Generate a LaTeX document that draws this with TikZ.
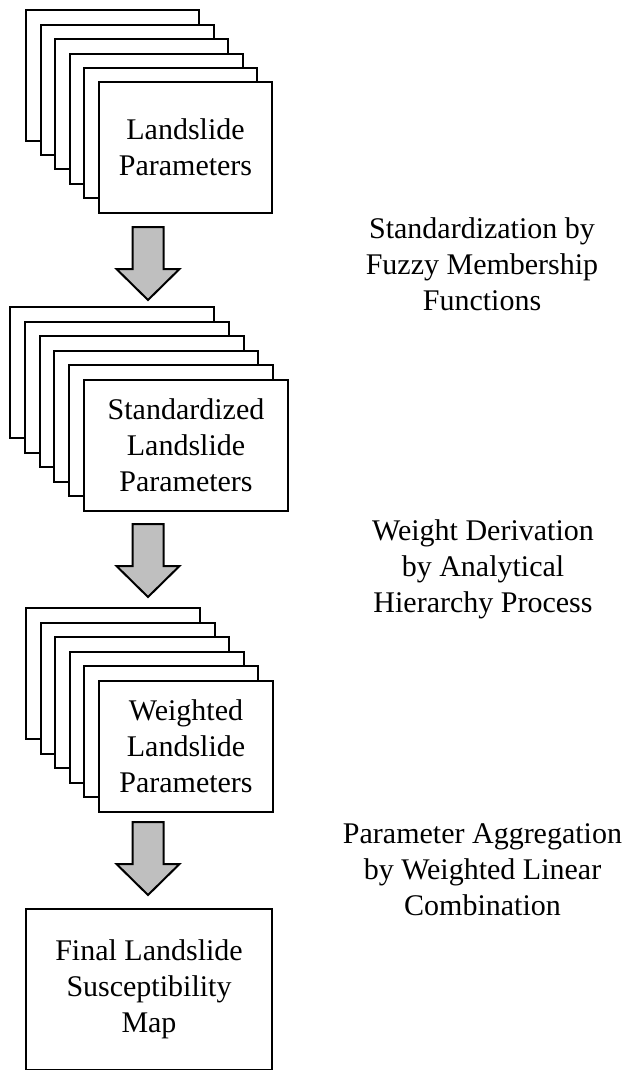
\documentclass[tikz,border=0pt]{standalone}
\usepackage{fontspec}
\setmainfont{Liberation Serif}
\usetikzlibrary{calc}
\begin{document}
\begin{tikzpicture}[x=1pt,y=-1pt,
  paper/.style={draw=black, fill=white, line width=2pt, anchor=north west, inner sep=0pt},
  lbl/.style={align=center, inner sep=0pt, font=\fontsize{30}{36}\selectfont},
  arrowstyle/.style={draw=black, fill=black!25, line width=2pt, line join=miter},
  blockarrow/.pic={\draw[arrowstyle] (-15.5,0) -- (15.5,0) -- (15.5,42) -- (31.5,42) -- (0,73) -- (-31.5,42) -- (-15.5,42) -- cycle;}
]
\useasboundingbox (0,0) rectangle (631,1070);

% Stack 1
\foreach \i in {0,...,4}
  \node[paper, minimum width=173pt, minimum height=130pt] (s1b\i) at (25+14.6*\i, 9.5+14.4*\i) {};
\node[paper, minimum width=173pt, minimum height=130pt] (s1f) at (98, 81.5) {};
\node[lbl] (s1t) at (s1f.center) {Landslide\\Parameters};

% Arrow 1
\pic at (148,227) {blockarrow};

% Stack 2
\foreach \i in {0,...,4}
  \node[paper, minimum width=204pt, minimum height=131pt] (s2b\i) at (9+14.8*\i, 306+14.6*\i) {};
\node[paper, minimum width=204pt, minimum height=131pt] (s2f) at (83, 379) {};
\node[lbl] (s2t) at (s2f.center) {Standardized\\Landslide\\Parameters};

% Arrow 2
\pic at (148,524) {blockarrow};

% Stack 3
\foreach \i in {0,...,4}
  \node[paper, minimum width=174pt, minimum height=131pt] (s3b\i) at (25+14.6*\i, 607+14.6*\i) {};
\node[paper, minimum width=174pt, minimum height=131pt] (s3f) at (98, 680) {};
\node[lbl] (s3t) at (s3f.center) {Weighted\\Landslide\\Parameters};

% Arrow 3
\pic at (148,822) {blockarrow};

% Final box
\node[paper, minimum width=246pt, minimum height=161pt] (fin) at (25, 908) {};
\node[lbl] (fint) at (fin.center) {Final Landslide\\Susceptibility\\Map};

% Side labels
\node[lbl] (l1) at (482, 264) {Standardization by\\Fuzzy Membership\\Functions};
\node[lbl] (l2) at (483, 569) {Weight Derivation\\by Analytical\\Hierarchy Process};
\node[lbl] (l3) at (482.5, 870) {Parameter Aggregation\\by Weighted Linear\\Combination};
\end{tikzpicture}
\end{document}
